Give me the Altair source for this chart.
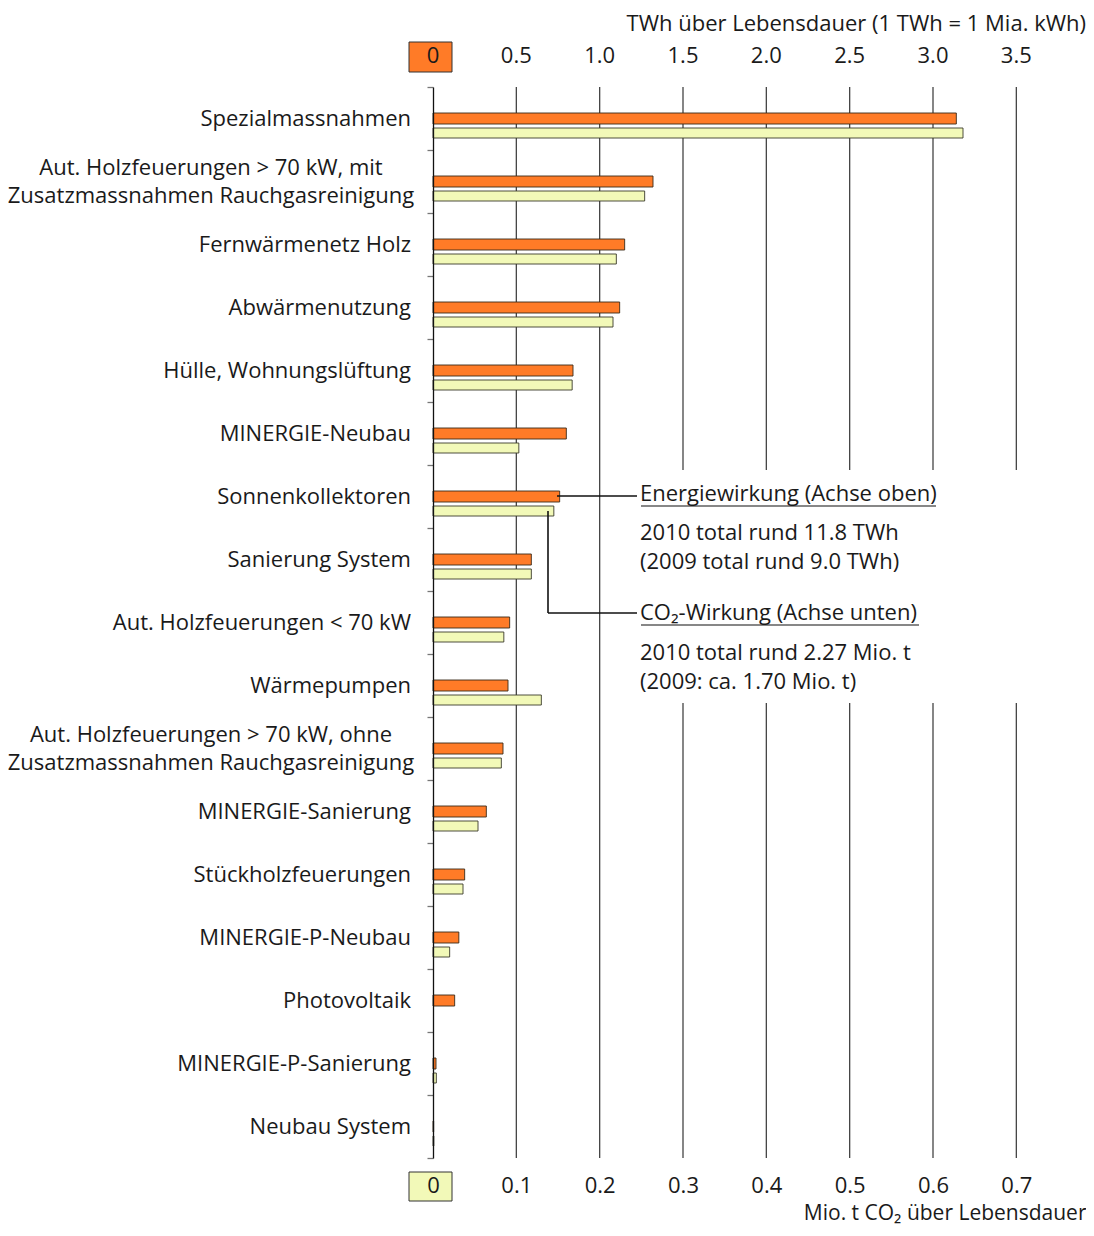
import altair as alt
import pandas as pd

categories = [
    "Spezialmassnahmen",
    "Aut. Holzfeuerungen > 70 kW, mit|Zusatzmassnahmen Rauchgasreinigung",
    "Fernwärmenetz Holz",
    "Abwärmenutzung",
    "Hülle, Wohnungslüftung",
    "MINERGIE-Neubau",
    "Sonnenkollektoren",
    "Sanierung System",
    "Aut. Holzfeuerungen < 70 kW",
    "Wärmepumpen",
    "Aut. Holzfeuerungen > 70 kW, ohne|Zusatzmassnahmen Rauchgasreinigung",
    "MINERGIE-Sanierung",
    "Stückholzfeuerungen",
    "MINERGIE-P-Neubau",
    "Photovoltaik",
    "MINERGIE-P-Sanierung",
    "Neubau System",
]
energie_twh = [3.14, 1.32, 1.15, 1.12, 0.84, 0.80, 0.76, 0.59, 0.46, 0.45,
               0.42, 0.32, 0.19, 0.155, 0.13, 0.018, 0.004]
co2_mio_t = [0.636, 0.254, 0.220, 0.216, 0.167, 0.103, 0.145, 0.118, 0.085, 0.130,
             0.082, 0.054, 0.036, 0.020, 0.0, 0.004, 0.001]
energie_ticks = [0, 0.5, 1.0, 1.5, 2.0, 2.5, 3.0, 3.5]
co2_ticks = [0, 0.1, 0.2, 0.3, 0.4, 0.5, 0.6, 0.7]
grid_values = [0.1, 0.2, 0.3, 0.4, 0.5, 0.6, 0.7]
TWH_PER_MIO_T_AXIS = 5  # top axis 0.5 TWh aligns with bottom axis 0.1 Mio. t

annot_lines = [
    "Energiewirkung (Achse oben)",
    "2010 total rund 11.8 TWh",
    "(2009 total rund 9.0 TWh)",
    "CO₂-Wirkung (Achse unten)",
    "2010 total rund 2.27 Mio. t",
    "(2009: ca. 1.70 Mio. t)",
]
annot_y = [407, 446, 475, 526, 566, 595]

ORANGE = "#FF7B27"
YELLOW = "#F2F9B8"
TXT = "#1a1a1a"
FONT = "Open Sans"
FS = 22
W, H = 650, 1071
CO2_MAX = 0.78

df = pd.DataFrame({"cat": categories, "energie": energie_twh, "co2": co2_mio_t})
grid_df = pd.DataFrame({"g": grid_values})
etick_df = pd.DataFrame({"t": energie_ticks})
one = pd.DataFrame({"a": [0]})

xscale = alt.Scale(domain=[0, CO2_MAX], nice=False)
x_axis = alt.Axis(orient="bottom", values=co2_ticks,
                  labelExpr="datum.value == 0 ? '0' : format(datum.value, '.1f')",
                  labelFont=FONT, labelFontSize=FS, labelColor=TXT,
                  labelBaseline="middle", labelPadding=27, labelFlush=False,
                  ticks=False, domain=False, grid=False, zindex=2,
                  title="Mio. t CO₂ über Lebensdauer",
                  titleFont=FONT, titleFontSize=21, titleFontWeight="normal",
                  titleColor=TXT, titleAlign="right", titleAnchor="end",
                  titleBaseline="middle", titleX=653, titleY=55)

y_axis = alt.Axis(
    title=None,
    labels=False,
    tickBand="extent",
    tickSize=6,
    tickColor="#777777",
    tickWidth=1.3,
    domainColor="#111111",
    domainWidth=1.3,
    grid=False,
    zindex=1,
)
y_enc = alt.Y("cat:N", sort=categories, axis=y_axis,
              scale=alt.Scale(paddingInner=0, paddingOuter=0))

grid = alt.Chart(grid_df).mark_rule(color="#444444", strokeWidth=1.3).encode(
    x=alt.X("g:Q", scale=xscale, axis=x_axis)
)

white_box = alt.Chart(one).mark_rect(fill="white").encode(
    x=alt.value(196), x2=alt.value(595), y=alt.value(383), y2=alt.value(616)
)

bars_e = alt.Chart(df).transform_calculate(
    e_pos=f"datum.energie / {TWH_PER_MIO_T_AXIS}"
).mark_bar(size=11, stroke="#3a2a1a", strokeWidth=0.9, color=ORANGE).encode(
    x=alt.X("e_pos:Q", scale=xscale, axis=x_axis),
    y=y_enc,
)

bars_c = alt.Chart(df).transform_filter("datum.co2 > 0").mark_bar(
    size=10, yOffset=14.5, stroke="#3a3a2a", strokeWidth=0.9, color=YELLOW
).encode(
    x=alt.X("co2:Q", scale=xscale, axis=x_axis),
    y=y_enc,
)

labels_single = alt.Chart(df).transform_filter(
    "indexof(datum.cat, '|') < 0"
).mark_text(align="right", baseline="middle", font=FONT, fontSize=FS, color=TXT).encode(
    x=alt.value(-22), y=y_enc, text="cat:N"
)
labels_multi = alt.Chart(df).transform_filter(
    "indexof(datum.cat, '|') >= 0"
).transform_calculate(
    lines="split(datum.cat, '|')"
).mark_text(align="center", baseline="middle", font=FONT, fontSize=FS, color=TXT,
            lineHeight=28, dy=-14).encode(
    x=alt.value(-222), y=y_enc, text="lines:N"
)

top_labels = alt.Chart(etick_df).transform_calculate(
    p=f"datum.t / {TWH_PER_MIO_T_AXIS}",
    lab="datum.t == 0 ? '0' : format(datum.t, '.1f')",
).mark_text(baseline="middle", align="center", font=FONT, fontSize=FS, color=TXT).encode(
    x=alt.X("p:Q", scale=xscale, axis=x_axis),
    y=alt.value(-31),
    text="lab:N",
)
top_title = alt.Chart(one).mark_text(
    text="TWh über Lebensdauer (1 TWh = 1 Mia. kWh)", align="right", baseline="middle",
    font=FONT, fontSize=FS, color=TXT
).encode(x=alt.value(653), y=alt.value(-63))

line_style = dict(color="#111111", strokeWidth=1.6)
conn1 = alt.Chart(one).mark_rule(**line_style).encode(
    x=alt.value(124), x2=alt.value(204), y=alt.value(409), y2=alt.value(409))
conn2 = alt.Chart(one).mark_rule(**line_style).encode(
    x=alt.value(115), x2=alt.value(115), y=alt.value(424), y2=alt.value(526))
conn3 = alt.Chart(one).mark_rule(**line_style).encode(
    x=alt.value(115), x2=alt.value(204), y=alt.value(526), y2=alt.value(526))
ul1 = alt.Chart(one).mark_rule(color="#111111", strokeWidth=1.2).encode(
    x=alt.value(208), x2=alt.value(503), y=alt.value(419), y2=alt.value(419))
ul2 = alt.Chart(one).mark_rule(color="#111111", strokeWidth=1.2).encode(
    x=alt.value(208), x2=alt.value(486), y=alt.value(538), y2=alt.value(538))

annots = [
    alt.Chart(one).mark_text(text=t, align="left", baseline="middle", font=FONT,
                             fontSize=FS, color=TXT).encode(x=alt.value(207), y=alt.value(yy))
    for t, yy in zip(annot_lines, annot_y)
]

box_top = alt.Chart(one).mark_rect(fill=ORANGE, stroke="#333333", strokeWidth=1).encode(
    x=alt.value(-24), x2=alt.value(19), y=alt.value(-45), y2=alt.value(-15))
box_bot = alt.Chart(one).mark_rect(fill=YELLOW, stroke="#333333", strokeWidth=1).encode(
    x=alt.value(-24), x2=alt.value(19), y=alt.value(1085), y2=alt.value(1114))

chart = alt.layer(
    grid, white_box, box_top, box_bot, bars_e, bars_c, labels_single, labels_multi,
    top_labels, top_title, conn1, conn2, conn3, ul1, ul2, *annots
).properties(
    width=W, height=H,
    autosize=alt.AutoSizeParams(type="none"),
    padding={"left": 425, "top": 79, "right": 3, "bottom": 68},
).configure(background="white").configure_view(stroke=None)

chart.save("out.html", embed_options={"renderer": "svg", "actions": False})
